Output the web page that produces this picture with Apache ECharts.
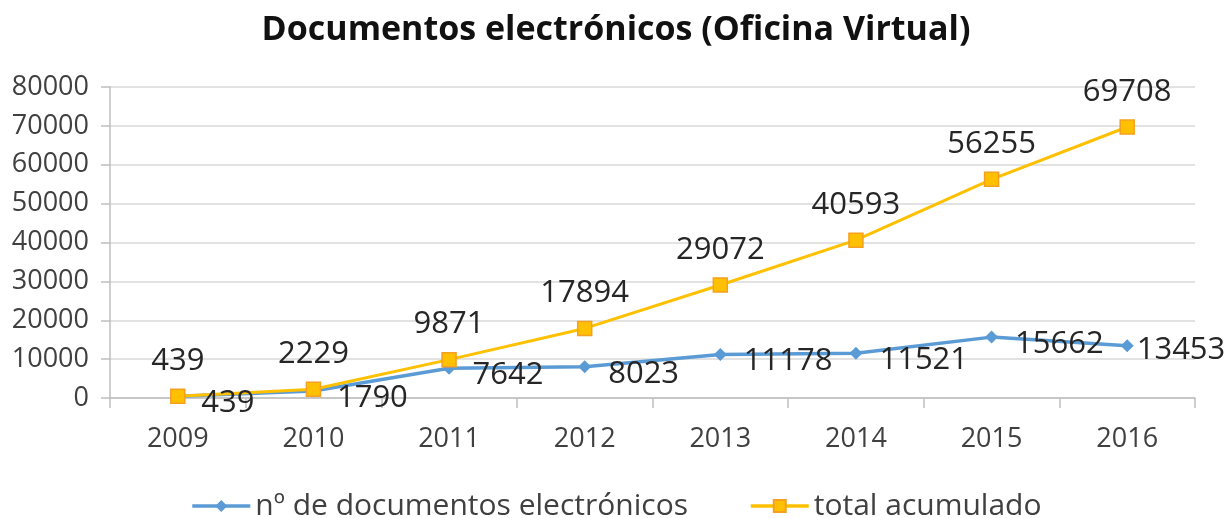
<!DOCTYPE html>
<html><head><meta charset="utf-8">
<script src="https://cdn.jsdelivr.net/npm/echarts@6/dist/echarts.min.js"></script>
<style>html,body{margin:0;padding:0;background:#fff}#c{width:1232px;height:518px}</style>
</head><body><div id="c"></div>
<script>
const categories = ['2009','2010','2011','2012','2013','2014','2015','2016'];
const documentos = [439, 1790, 7642, 8023, 11178, 11521, 15662, 13453];
const acumulado = [439, 2229, 9871, 17894, 29072, 40593, 56255, 69708];
const yTicks = {min: 0, max: 80000, interval: 10000};
const F = '"Open Sans", sans-serif';
const chart = echarts.init(document.getElementById('c'));
const lastIdx = documentos.length - 1;
chart.setOption({
  animation: false,
  title: {text: 'Documentos electrónicos (Oficina Virtual)', left: 'center', top: 8,
    textStyle: {fontFamily: F, fontSize: 34, fontWeight: 'bold', color: '#111'}},
  grid: {left: 110, right: 37, top: 87, bottom: 120},
  legend: {bottom: -3, padding: 0, itemWidth: 58, itemHeight: 15, itemGap: 61,
    lineStyle: {width: 3.5},
    textStyle: {fontFamily: F, fontSize: 30, color: '#404040'},
    data: ['nº de documentos electrónicos', 'total acumulado']},
  xAxis: {type: 'category', data: categories, boundaryGap: true,
    axisLine: {lineStyle: {color: '#bfbfbf', width: 1.5}},
    axisTick: {show: true, length: 10, lineStyle: {color: '#bfbfbf', width: 1.5}},
    axisLabel: {fontFamily: F, fontSize: 27, color: '#404040', margin: 28}},
  yAxis: {type: 'value', min: yTicks.min, max: yTicks.max, interval: yTicks.interval,
    axisLine: {show: true, lineStyle: {color: '#bfbfbf', width: 1.5}},
    axisTick: {show: true, length: 9, lineStyle: {color: '#bfbfbf', width: 1.5}},
    splitLine: {lineStyle: {color: '#d9d9d9', width: 1.5}},
    axisLabel: {fontFamily: F, fontSize: 27, color: '#404040', margin: 21,
      formatter: v => String(v)}},
  series: [
    {name: 'nº de documentos electrónicos', type: 'line',
      data: documentos.map((v, i) => i === lastIdx ? {value: v, label: {offset: [-14, 4]}} : v),
      symbol: 'diamond', symbolSize: 13,
      lineStyle: {color: '#5B9BD5', width: 3.5}, itemStyle: {color: '#5B9BD5'},
      label: {show: true, position: 'right', distance: 17, offset: [0, 7],
        fontFamily: F, fontSize: 31, color: '#262626'}},
    {name: 'total acumulado', type: 'line', data: acumulado,
      symbol: 'rect', symbolSize: 14,
      lineStyle: {color: '#FFC000', width: 3},
      itemStyle: {color: '#FFC000', borderColor: '#F4A020', borderWidth: 1.5},
      label: {show: true, position: 'top', distance: 12,
        fontFamily: F, fontSize: 31, color: '#262626'}}
  ]
});
</script></body></html>
